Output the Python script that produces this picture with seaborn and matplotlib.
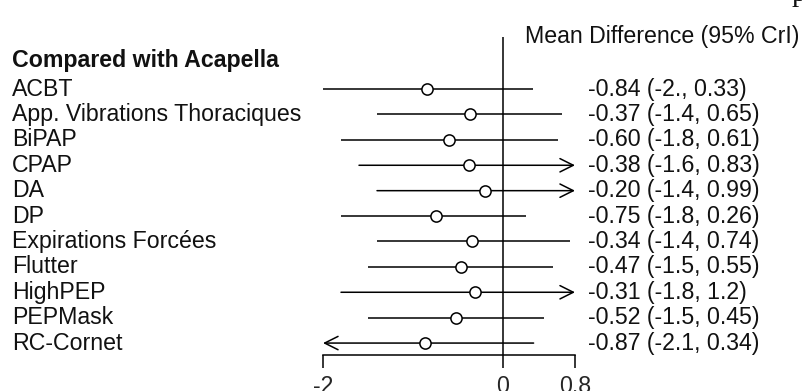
import numpy as np
import pandas as pd
import matplotlib
matplotlib.use('Agg')
import matplotlib.pyplot as plt
import matplotlib.transforms as mtransforms
import seaborn as sns

treatments = ['ACBT', 'App. Vibrations Thoraciques', 'BiPAP', 'CPAP', 'DA', 'DP',
              'Expirations Forcées', 'Flutter', 'HighPEP', 'PEPMask', 'RC-Cornet']
mean_diff = [-0.84, -0.37, -0.60, -0.38, -0.20, -0.75, -0.34, -0.47, -0.31, -0.52, -0.87]
lower = [-2.0, -1.4, -1.8, -1.6, -1.4, -1.8, -1.4, -1.5, -1.8, -1.5, -2.1]
upper = [0.33, 0.65, 0.61, 0.83, 0.99, 0.26, 0.74, 0.55, 1.2, 0.45, 0.34]
ci_labels = ['-0.84 (-2., 0.33)', '-0.37 (-1.4, 0.65)', '-0.60 (-1.8, 0.61)', '-0.38 (-1.6, 0.83)',
             '-0.20 (-1.4, 0.99)', '-0.75 (-1.8, 0.26)', '-0.34 (-1.4, 0.74)', '-0.47 (-1.5, 0.55)',
             '-0.31 (-1.8, 1.2)', '-0.52 (-1.5, 0.45)', '-0.87 (-2.1, 0.34)']
x_ticks = [-2, 0, 0.8]
x_min, x_max = -2, 0.8

df = pd.DataFrame({'treatment': treatments, 'mean': mean_diff, 'lo': lower, 'hi': upper,
                   'label': ci_labels})
df['row'] = np.arange(len(df))

sns.set_style('white')
plt.rcParams['font.family'] = ['Liberation Sans', 'DejaVu Sans']

fig = plt.figure(figsize=(8.02, 3.91), dpi=100)
ax = fig.add_axes([323 / 802, 1 - 355 / 391, 252 / 802, (355 - 37) / 391])

fs = 16.7
lw = 1.1

for _, r in df.iterrows():
    lo = max(r['lo'], x_min)
    hi = min(r['hi'], x_max)
    if r['hi'] > x_max:
        ax.annotate('', xy=(hi, r['row']), xytext=(lo, r['row']),
                    arrowprops=dict(arrowstyle='->', lw=lw, color='black',
                                    mutation_scale=24, shrinkA=0, shrinkB=0))
    elif r['lo'] < x_min:
        ax.annotate('', xy=(lo, r['row']), xytext=(hi, r['row']),
                    arrowprops=dict(arrowstyle='->', lw=lw, color='black',
                                    mutation_scale=24, shrinkA=0, shrinkB=0))
    else:
        ax.plot([lo, hi], [r['row'], r['row']], color='black', lw=lw, solid_capstyle='butt')

ax.axvline(0, color='black', lw=lw, zorder=1)

sns.scatterplot(data=df, x='mean', y='row', ax=ax, s=65, color='white',
                edgecolor='black', linewidth=1.1, zorder=3, legend=False)

ax.set_xlim(x_min, x_max)
ax.set_ylim(len(df) - 0.53, -2.05)
ax.set_xticks(x_ticks)
ax.set_xticklabels(['-2', '0', '0.8'], fontsize=fs)
ax.set_yticks([])
ax.set_xlabel('')
ax.set_ylabel('')
for s in ['top', 'right', 'left']:
    ax.spines[s].set_visible(False)
ax.spines['bottom'].set_linewidth(lw)
ax.spines['bottom'].set_color('black')
ax.tick_params(axis='x', direction='out', length=9.4, width=lw, color='black', pad=5, bottom=True)
ax.patch.set_alpha(0)

left_tr = mtransforms.blended_transform_factory(fig.transFigure, ax.transData)
for _, r in df.iterrows():
    fig.text(12 / 802, r['row'], r['treatment'], transform=left_tr, fontsize=fs,
             va='center', ha='left', color='#111111')
    fig.text(588 / 802, r['row'], r['label'], transform=left_tr, fontsize=fs,
             va='center', ha='left', color='#111111')

fig.text(12 / 802, 1 - 60 / 391, 'Compared with Acapella', fontsize=fs, fontweight='bold',
         va='center', ha='left', color='#111111')
fig.text(525 / 802, 1 - 36 / 391, 'Mean Difference (95% CrI)', fontsize=fs,
         va='center', ha='left', color='#111111')
fig.text(792 / 802, 1 - 1 / 391, 'p', fontsize=fs + 4, family=['Liberation Serif'],
         va='baseline', ha='left', color='#111111')

fig.savefig('out.png', dpi=100)
